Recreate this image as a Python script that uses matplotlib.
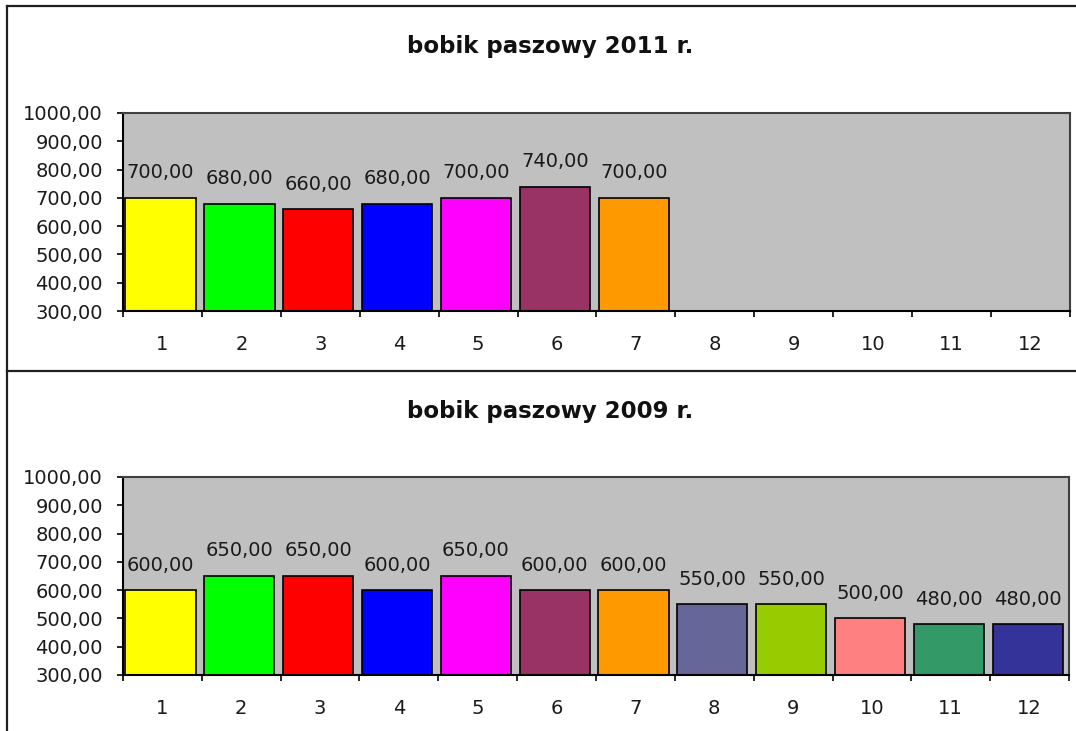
import numpy as np
import matplotlib
matplotlib.use("Agg")
import matplotlib.pyplot as plt
from matplotlib.lines import Line2D

# --- data ---
categories = [1, 2, 3, 4, 5, 6, 7, 8, 9, 10, 11, 12]
values_2011 = [700, 680, 660, 680, 700, 740, 700]
values_2009 = [600, 650, 650, 600, 650, 600, 600, 550, 550, 500, 480, 480]
bar_colors = ['#FFFF00', '#00FF00', '#FF0000', '#0000FF', '#FF00FF', '#993366',
              '#FF9900', '#666699', '#99CC00', '#FF8080', '#339966', '#333399']
titles = ['bobik paszowy 2011 r.', 'bobik paszowy 2009 r.']
y_ticks = [300, 400, 500, 600, 700, 800, 900, 1000]

W, H = 1076, 731
fig = plt.figure(figsize=(W / 100, H / 100), dpi=100)
plt.rcParams['font.family'] = ['DejaVu Sans']


def fmt(v):
    return f"{v:.2f}".replace('.', ',')


def draw_panel(rect, values, title, title_y):
    ax = fig.add_axes(rect)
    ax.set_facecolor('#C0C0C0')
    n = len(values)
    x = np.array(categories[:n])
    # bars sit a little left of the slot centre, like in Excel
    ax.bar(x - 0.47, values, width=0.89, align='edge', bottom=0,
           color=bar_colors[:n], edgecolor='black', linewidth=1.2, zorder=2)
    for xi, v in zip(x, values):
        ax.annotate(fmt(v), (xi - 0.47 + 0.445, v), xytext=(0, 18),
                    textcoords='offset points', ha='center', va='center',
                    fontsize=14, color='#1a1a1a', zorder=3)
    ax.set_xlim(0.5, len(categories) + 0.5)
    ax.set_ylim(300, 1000)
    ax.set_yticks(y_ticks)
    ax.set_yticklabels([fmt(v) for v in y_ticks], fontsize=14, color='#1a1a1a')
    # ticks at slot boundaries, labels at slot centres
    ax.set_xticks(np.arange(0.5, len(categories) + 1, 1.0))
    ax.set_xticklabels([])
    ax.set_xticks(categories, minor=True)
    ax.set_xticklabels([str(c) for c in categories], minor=True,
                       fontsize=14, color='#1a1a1a')
    ax.tick_params(axis='x', which='major', direction='out', length=4.5,
                   width=1.2, color='black')
    ax.tick_params(axis='x', which='minor', length=0, pad=17)
    ax.tick_params(axis='y', direction='out', length=4.5, width=1.2,
                   color='black', pad=10)
    for side in ['left', 'bottom']:
        ax.spines[side].set_linewidth(1.5)
        ax.spines[side].set_color('black')
    for side in ['top', 'right']:
        ax.spines[side].set_linewidth(1.5)
        ax.spines[side].set_color('#404040')
    fig.text(550 / W, 1 - title_y / H, title, ha='center', va='baseline',
             fontsize=16.5, fontweight='bold', color='#111111')
    return ax


draw_panel([123 / W, 1 - 311 / H, 947 / W, 198 / H], values_2011, titles[0], 53)
draw_panel([123 / W, 1 - 675 / H, 946 / W, 198 / H], values_2009, titles[1], 418)

# chart frames
frame = dict(color='#202020', linewidth=1.6, transform=fig.transFigure)
fig.add_artist(Line2D([7 / W, 1], [1 - 6 / H, 1 - 6 / H], **frame))
fig.add_artist(Line2D([7 / W, 1], [1 - 370.5 / H, 1 - 370.5 / H], **frame))
fig.add_artist(Line2D([7 / W, 7 / W], [1 - 6 / H, 0], **frame))

fig.savefig('out.png', dpi=100, facecolor='white')
